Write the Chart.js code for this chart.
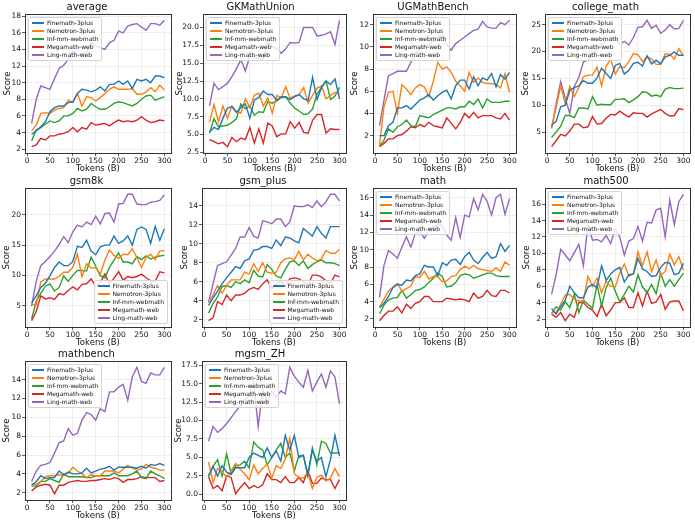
<!DOCTYPE html>
<html>
<head>
<meta charset="utf-8">
<script src="https://cdn.jsdelivr.net/npm/chart.js@4.4.1/dist/chart.umd.min.js"></script>
<style>
    body { margin: 0; width: 695px; height: 520px; background: #fff; position: relative; overflow: hidden; font-family: "DejaVu Sans", sans-serif; }
    canvas { position: absolute; }
    .legend { position: absolute; background: rgba(255, 255, 255, 0.8); border: 1px solid #d4d4d4; border-radius: 2px;
              padding: 1px 3px 1px 3px; font-size: 6px; line-height: 8px; color: #111; white-space: nowrap; }
    .legend .sw { display: inline-block; width: 12px; height: 2px; vertical-align: middle; margin-right: 3px; }
</style>
</head>
<body>
<script>
// x values (training tokens, billions)
const tokens = [10, 20, 30, 40, 50, 60, 70, 80, 90, 100, 110, 120, 130, 140, 150,
                160, 170, 180, 190, 200, 210, 220, 230, 240, 250, 260, 270, 280, 290, 300];

const seriesNames = ['Finemath-3plus', 'Nemotron-3plus', 'Inf-mm-webmath', 'Megamath-web', 'Ling-math-web'];

// average
const avgFine = [3.8, 4.2, 4.7, 5.3, 6.5, 7.0, 7.2, 7.2, 7.6, 7.7, 8.7, 9.2, 9.1, 8.9, 9.1, 9.5, 9.0, 9.8, 9.8, 10.2, 9.8, 10.2, 9.3, 10.4, 10.2, 10.4, 10.0, 10.8, 10.8, 10.6];
const avgNemo = [4.2, 4.9, 6.3, 6.4, 6.3, 6.7, 6.9, 7.0, 7.9, 7.6, 8.7, 7.2, 8.3, 8.2, 7.8, 8.2, 8.7, 9.2, 9.5, 9.2, 9.2, 9.2, 9.3, 8.6, 8.6, 8.9, 9.4, 8.9, 9.7, 9.1];
const avgInf  = [3.0, 4.3, 4.6, 5.0, 5.4, 5.2, 5.4, 6.0, 6.0, 6.3, 6.9, 6.6, 6.8, 7.5, 7.1, 6.8, 6.8, 7.1, 7.5, 7.7, 7.6, 7.4, 7.2, 7.5, 8.0, 8.4, 8.5, 7.9, 8.1, 8.3];
const avgMega = [2.3, 2.5, 3.3, 3.1, 3.6, 3.6, 3.8, 3.9, 4.1, 4.6, 4.1, 4.6, 4.4, 5.2, 4.9, 5.0, 5.1, 4.8, 5.2, 5.5, 5.3, 5.4, 5.3, 5.5, 5.9, 5.5, 5.2, 5.3, 5.5, 5.4];
const avgLing = [5.1, 8.0, 9.6, 9.4, 9.2, 10.5, 11.7, 12.1, 12.8, 13.8, 13.3, 13.5, 13.6, 14.8, 14.4, 14.2, 14.0, 14.8, 15.1, 16.2, 16.0, 16.8, 17.0, 17.1, 16.7, 16.3, 17.1, 17.1, 16.9, 17.5];

// GKMathUnion
const gkFine = [5.3, 6.0, 5.7, 7.3, 8.7, 8.9, 8.1, 8.8, 9.3, 7.3, 9.8, 10.2, 11.1, 10.6, 10.6, 9.8, 10.3, 10.3, 9.9, 10.3, 10.6, 10.0, 9.8, 13.0, 9.9, 11.6, 12.5, 12.0, 12.8, 10.0];
const gkNemo = [6.7, 9.2, 6.8, 9.0, 7.3, 9.0, 8.2, 8.0, 10.0, 8.8, 10.5, 10.8, 9.0, 10.1, 8.0, 10.5, 10.1, 11.7, 10.1, 10.4, 10.6, 11.6, 9.4, 10.5, 11.5, 11.8, 10.0, 10.5, 10.9, 10.8];
const gkInf  = [5.2, 7.2, 6.1, 6.2, 6.3, 6.7, 7.2, 9.3, 8.6, 9.0, 7.7, 8.2, 8.1, 9.6, 9.4, 9.7, 10.2, 10.3, 9.4, 8.7, 8.3, 7.8, 7.9, 8.6, 10.7, 11.6, 12.5, 9.9, 10.4, 11.6];
const gkMega = [4.3, 4.0, 3.7, 3.9, 3.3, 4.6, 4.0, 4.5, 4.3, 6.0, 3.8, 5.8, 3.8, 6.6, 6.2, 4.7, 5.1, 5.1, 6.8, 5.9, 6.7, 5.3, 5.2, 7.0, 7.8, 7.8, 5.2, 5.8, 5.7, 5.7];
const gkLing = [9.0, 12.2, 11.3, 11.7, 12.2, 13.1, 14.2, 15.5, 13.9, 16.0, 15.9, 15.6, 15.6, 18.1, 17.3, 17.0, 16.4, 17.0, 17.9, 17.8, 17.9, 20.0, 20.0, 20.0, 18.8, 18.9, 19.1, 19.4, 17.6, 21.0];

// UGMathBench
const ugFine = [2.0, 2.0, 2.9, 3.2, 4.5, 4.5, 4.7, 4.4, 4.8, 5.2, 5.4, 5.7, 5.2, 5.6, 5.9, 6.1, 5.3, 6.5, 7.0, 7.0, 6.2, 7.3, 6.5, 7.2, 7.0, 7.6, 6.4, 7.5, 7.1, 7.7];
const ugNemo = [1.1, 4.6, 5.9, 6.0, 4.0, 6.6, 6.2, 5.7, 6.3, 6.6, 6.4, 5.5, 6.9, 8.6, 8.0, 8.2, 7.7, 6.9, 6.5, 6.0, 7.7, 6.8, 7.2, 6.8, 6.7, 6.7, 6.6, 6.3, 7.6, 5.9];
const ugInf  = [1.0, 1.6, 2.6, 2.3, 2.8, 3.0, 3.4, 2.9, 2.8, 3.8, 3.7, 3.6, 3.9, 4.1, 4.3, 4.5, 4.5, 4.4, 4.6, 4.6, 5.1, 4.8, 5.3, 4.5, 5.3, 5.0, 5.0, 5.0, 5.1, 5.1];
const ugMega = [1.0, 1.3, 1.7, 1.7, 2.0, 2.1, 2.4, 2.8, 2.7, 3.0, 2.8, 3.2, 2.9, 2.8, 2.7, 3.6, 3.1, 2.6, 3.2, 4.0, 3.6, 4.1, 3.6, 3.8, 3.8, 3.8, 3.6, 3.5, 4.0, 3.4];
const ugLing = [2.9, 5.2, 7.4, 7.6, 7.8, 7.8, 7.8, 8.6, 9.4, 9.8, 10.0, 10.2, 10.5, 10.9, 11.1, 10.2, 9.7, 10.3, 10.6, 10.9, 11.2, 11.5, 11.6, 12.3, 11.8, 11.7, 11.7, 12.2, 12.0, 12.4];

// college_math
const cmFine = [6.3, 7.0, 9.7, 10.0, 12.8, 13.3, 13.6, 14.6, 14.1, 14.1, 15.1, 16.9, 15.9, 15.0, 17.4, 17.8, 15.8, 16.5, 17.8, 18.0, 17.3, 19.2, 17.7, 18.4, 17.7, 19.0, 19.3, 19.9, 19.3, 19.3];
const cmNemo = [5.9, 9.5, 13.6, 10.3, 13.5, 11.6, 13.3, 15.3, 15.6, 15.6, 17.1, 13.6, 17.3, 18.6, 15.8, 17.2, 17.0, 18.1, 19.6, 19.4, 18.1, 19.0, 18.6, 17.6, 17.6, 19.6, 19.5, 18.6, 20.5, 19.2];
const cmInf  = [4.0, 5.0, 6.1, 8.1, 8.1, 7.7, 9.5, 9.5, 9.3, 11.6, 10.0, 10.2, 10.1, 10.1, 11.1, 11.1, 11.2, 10.5, 11.0, 11.6, 12.5, 12.4, 11.7, 11.9, 11.6, 13.0, 13.3, 13.1, 13.1, 13.2];
const cmMega = [2.3, 3.4, 4.6, 4.3, 5.2, 6.5, 6.5, 5.8, 6.0, 7.9, 6.5, 6.6, 7.6, 8.3, 8.2, 8.9, 8.3, 7.8, 8.6, 8.5, 8.5, 7.8, 8.4, 8.8, 9.2, 8.5, 8.0, 8.1, 9.4, 9.2];
const cmLing = [5.7, 10.2, 14.4, 11.3, 8.5, 13.5, 15.2, 18.1, 18.4, 19.6, 20.5, 21.3, 22.0, 22.6, 22.3, 21.4, 21.9, 21.2, 22.6, 24.5, 24.6, 25.8, 24.3, 24.9, 23.4, 24.0, 25.0, 24.2, 24.3, 25.8];

// gsm8k
const g8Fine = [5.5, 6.6, 8.0, 8.7, 9.9, 11.3, 12.2, 11.6, 11.6, 12.3, 14.8, 14.6, 15.8, 14.0, 13.4, 14.7, 15.0, 15.0, 16.5, 15.3, 15.7, 16.5, 15.0, 17.6, 18.0, 17.6, 15.3, 18.1, 15.8, 17.7];
const g8Nemo = [5.2, 5.1, 8.9, 9.4, 9.4, 9.4, 9.8, 10.5, 10.5, 11.3, 13.5, 9.8, 11.9, 11.2, 11.3, 10.2, 12.5, 14.2, 13.3, 12.8, 13.5, 13.4, 14.4, 12.9, 11.3, 12.9, 13.5, 12.6, 14.0, 14.1];
const g8Inf  = [2.8, 5.7, 7.0, 8.2, 8.6, 7.4, 8.0, 9.9, 9.0, 10.0, 10.8, 10.8, 10.7, 13.0, 11.5, 9.9, 9.6, 11.3, 12.5, 13.7, 12.2, 12.2, 11.9, 13.1, 12.6, 13.2, 12.7, 13.0, 13.2, 13.3];
const g8Mega = [2.5, 4.0, 6.6, 6.1, 6.3, 6.0, 7.0, 6.8, 7.5, 8.1, 7.6, 8.5, 8.6, 9.4, 8.2, 8.8, 10.2, 8.6, 9.5, 10.6, 9.2, 9.8, 9.6, 9.8, 10.2, 9.6, 9.1, 9.0, 10.6, 10.4];
const g8Ling = [4.9, 9.0, 11.6, 12.3, 13.1, 14.0, 15.1, 16.4, 15.4, 17.2, 18.3, 18.0, 18.8, 18.4, 19.8, 18.5, 20.2, 20.3, 18.8, 21.8, 21.9, 23.4, 23.4, 21.8, 21.7, 21.7, 22.1, 22.2, 22.4, 23.3];

// gsm_plus
const gpFine = [3.5, 4.3, 5.0, 5.8, 6.4, 7.0, 7.6, 7.4, 8.2, 8.4, 9.3, 9.4, 9.7, 9.7, 9.5, 10.4, 9.8, 10.7, 10.6, 10.3, 10.1, 11.6, 11.2, 10.8, 11.8, 11.1, 10.6, 11.8, 11.8, 11.8];
const gpNemo = [3.9, 4.6, 5.6, 4.8, 5.6, 6.2, 6.2, 6.2, 7.0, 6.8, 7.9, 7.1, 8.0, 7.0, 6.9, 7.0, 8.0, 8.4, 8.5, 8.3, 9.2, 8.3, 8.9, 8.5, 8.2, 8.4, 9.3, 9.0, 9.0, 9.4];
const gpInf  = [2.7, 3.7, 4.4, 5.5, 5.6, 5.4, 6.0, 5.8, 6.2, 5.9, 7.2, 6.6, 6.5, 7.8, 7.3, 6.6, 6.4, 7.3, 8.1, 8.2, 7.7, 8.2, 7.4, 7.8, 8.1, 8.3, 8.0, 8.0, 7.9, 7.7];
const gpMega = [1.9, 2.2, 3.9, 3.6, 4.6, 4.0, 4.6, 4.6, 4.8, 5.2, 5.4, 5.2, 5.8, 6.2, 5.3, 5.7, 6.1, 5.5, 6.3, 6.4, 6.3, 6.0, 5.6, 6.7, 6.7, 6.5, 6.1, 5.8, 6.7, 6.5];
const gpLing = [3.8, 5.8, 7.7, 7.9, 8.1, 8.8, 9.5, 10.7, 10.7, 11.7, 10.8, 10.6, 12.4, 12.3, 12.1, 12.6, 12.6, 11.8, 12.3, 14.0, 13.9, 13.9, 14.1, 13.8, 14.5, 13.9, 14.4, 15.2, 15.2, 14.5];

// math
const mFine = [3.3, 3.8, 4.6, 5.6, 6.0, 5.9, 6.5, 6.4, 7.0, 7.2, 8.2, 8.0, 8.0, 7.0, 8.5, 8.2, 8.8, 8.9, 8.3, 9.2, 9.7, 8.8, 8.4, 9.1, 9.7, 9.0, 9.2, 10.7, 9.8, 10.5];
const mNemo = [3.4, 4.3, 5.2, 5.7, 6.1, 5.2, 5.5, 5.8, 6.9, 6.8, 7.5, 6.6, 6.9, 6.9, 6.3, 6.4, 6.9, 7.0, 7.7, 8.1, 7.8, 8.2, 7.8, 7.7, 7.6, 7.5, 7.9, 7.5, 8.6, 8.2];
const mInf  = [2.6, 3.6, 4.2, 4.4, 4.5, 5.3, 4.4, 4.8, 5.3, 5.4, 5.7, 6.2, 6.7, 7.3, 6.9, 5.7, 5.8, 6.2, 7.0, 7.2, 7.1, 6.7, 6.9, 7.1, 7.3, 7.3, 7.0, 6.9, 6.9, 6.9];
const mMega = [1.8, 2.4, 2.9, 2.9, 3.4, 2.7, 3.7, 3.2, 3.8, 4.0, 4.6, 4.6, 4.0, 4.0, 4.0, 4.4, 4.3, 4.2, 4.3, 4.2, 4.0, 5.0, 4.4, 4.6, 5.3, 4.7, 4.6, 5.3, 5.3, 5.0];
const mLing = [4.5, 8.2, 9.9, 9.5, 9.0, 10.3, 11.5, 10.3, 11.9, 12.1, 11.3, 12.3, 12.6, 12.9, 12.8, 11.7, 11.1, 13.7, 11.4, 14.0, 13.8, 15.9, 14.6, 16.4, 15.6, 14.0, 16.0, 16.4, 14.1, 15.9];

// math500
const m5Fine = [3.3, 2.6, 3.5, 4.3, 6.0, 5.2, 4.6, 4.6, 5.9, 6.2, 5.8, 8.5, 6.7, 7.5, 8.0, 8.3, 6.5, 7.4, 7.5, 9.4, 8.1, 7.8, 7.2, 7.3, 8.3, 8.9, 8.8, 7.4, 7.6, 8.8];
const m5Nemo = [2.8, 2.8, 3.8, 4.9, 5.0, 4.4, 4.2, 4.2, 7.2, 6.0, 7.0, 5.2, 6.6, 6.0, 5.9, 7.6, 8.7, 7.2, 7.5, 10.2, 8.5, 10.2, 7.8, 9.2, 7.3, 7.8, 9.9, 8.6, 9.6, 8.0];
const m5Inf  = [2.7, 3.5, 3.1, 4.1, 3.4, 5.0, 2.8, 4.3, 3.8, 3.3, 6.2, 3.6, 5.8, 7.0, 5.4, 4.1, 5.0, 6.0, 5.3, 7.4, 5.9, 5.2, 6.2, 5.1, 7.6, 6.0, 6.8, 6.0, 6.8, 7.6];
const m5Mega = [2.6, 2.2, 2.8, 1.8, 2.6, 2.2, 4.0, 4.0, 3.4, 3.1, 2.3, 3.8, 2.4, 3.1, 4.0, 4.0, 4.6, 3.4, 3.4, 5.2, 3.6, 5.4, 3.9, 4.1, 5.0, 3.2, 4.1, 4.2, 4.2, 3.0];
const m5Ling = [5.0, 7.4, 10.5, 9.8, 9.1, 10.1, 11.1, 8.5, 13.5, 11.6, 11.7, 11.4, 12.2, 11.2, 13.0, 12.0, 9.8, 11.5, 11.8, 13.3, 11.5, 13.8, 13.7, 15.3, 15.5, 12.0, 16.5, 13.5, 16.3, 17.2];

// mathbench
const mbFine = [2.8, 3.2, 3.8, 3.5, 3.6, 3.6, 4.3, 3.9, 4.2, 4.0, 4.0, 4.1, 4.6, 4.1, 4.3, 4.5, 4.6, 4.8, 4.4, 4.7, 4.7, 4.7, 4.7, 4.6, 4.8, 4.6, 5.0, 4.9, 5.1, 4.9];
const mbNemo = [2.9, 2.9, 3.2, 3.7, 3.8, 3.8, 3.9, 3.8, 4.1, 4.7, 4.3, 4.0, 3.6, 3.9, 3.8, 3.8, 4.3, 4.3, 4.3, 4.1, 4.5, 4.9, 4.6, 4.4, 4.5, 5.0, 4.7, 4.6, 4.4, 4.4];
const mbInf  = [2.7, 2.7, 3.2, 3.2, 3.5, 3.3, 3.1, 4.0, 3.7, 3.7, 3.7, 3.7, 3.6, 3.6, 3.8, 3.8, 3.8, 3.8, 4.1, 3.8, 3.8, 3.8, 4.0, 4.3, 3.6, 3.5, 4.3, 4.0, 3.8, 3.5];
const mbMega = [2.2, 2.6, 2.8, 2.9, 2.8, 1.9, 2.8, 2.8, 3.1, 3.2, 3.3, 3.2, 3.2, 3.3, 3.3, 3.4, 3.5, 3.4, 3.6, 3.5, 3.1, 3.4, 3.4, 3.5, 3.7, 3.6, 3.6, 3.6, 3.2, 3.3];
const mbLing = [3.2, 4.3, 4.9, 5.0, 5.2, 6.2, 7.3, 7.5, 8.8, 8.1, 8.3, 9.7, 10.5, 10.3, 9.7, 10.9, 10.6, 12.7, 12.7, 13.2, 13.5, 11.8, 14.3, 15.3, 13.8, 13.6, 14.7, 14.5, 14.5, 15.3];

// mgsm_ZH
const mgFine = [2.6, 3.8, 2.5, 3.9, 3.0, 2.7, 3.6, 3.6, 3.6, 5.0, 5.6, 5.3, 5.0, 6.3, 5.0, 5.9, 4.5, 8.0, 6.0, 8.0, 5.0, 5.3, 2.7, 6.0, 4.5, 5.0, 2.4, 4.7, 8.0, 5.2];
const mgNemo = [4.4, 1.6, 3.5, 3.0, 2.4, 3.2, 4.2, 3.4, 2.8, 2.0, 4.0, 2.8, 3.5, 4.1, 2.2, 3.9, 3.5, 4.8, 7.6, 2.8, 2.3, 2.2, 3.0, 0.8, 2.3, 2.6, 1.8, 2.2, 3.5, 2.4];
const mgInf  = [2.4, 3.8, 4.7, 2.5, 5.5, 2.8, 3.9, 4.0, 4.5, 3.6, 7.1, 6.4, 6.0, 4.0, 5.0, 6.0, 6.9, 5.0, 5.6, 3.2, 5.2, 5.3, 2.5, 6.3, 4.0, 7.2, 6.9, 5.6, 5.6, 5.6];
const mgMega = [2.4, 0.8, 1.2, 0.5, 2.5, 2.3, 0.1, 0.9, 1.6, 0.8, 1.2, 0.9, 1.3, 2.8, 2.0, 2.0, 1.6, 2.4, 1.6, 1.6, 2.3, 1.6, 3.2, 1.5, 1.5, 2.2, 2.0, 2.0, 0.8, 2.0];
const mgLing = [7.2, 9.2, 8.4, 8.9, 9.6, 10.4, 11.2, 12.0, 12.8, 13.3, 15.2, 9.2, 14.2, 12.4, 14.0, 13.2, 14.0, 13.6, 17.2, 16.0, 15.2, 14.5, 16.8, 14.0, 15.2, 16.3, 14.5, 16.7, 15.9, 12.3];

const titles = ['average', 'GKMathUnion', 'UGMathBench', 'college_math', 'gsm8k', 'gsm_plus', 'math', 'math500', 'mathbench', 'mgsm_ZH'];
const panelSeries = [
    [avgFine, avgNemo, avgInf, avgMega, avgLing],
    [gkFine, gkNemo, gkInf, gkMega, gkLing],
    [ugFine, ugNemo, ugInf, ugMega, ugLing],
    [cmFine, cmNemo, cmInf, cmMega, cmLing],
    [g8Fine, g8Nemo, g8Inf, g8Mega, g8Ling],
    [gpFine, gpNemo, gpInf, gpMega, gpLing],
    [mFine, mNemo, mInf, mMega, mLing],
    [m5Fine, m5Nemo, m5Inf, m5Mega, m5Ling],
    [mbFine, mbNemo, mbInf, mbMega, mbLing],
    [mgFine, mgNemo, mgInf, mgMega, mgLing]
];
const yStep = [2, 2.5, 2, 5, 5, 2, 2, 2, 2, 2.5];
const yDecimals = [0, 1, 0, 0, 0, 0, 0, 0, 0, 1];

// layout of the grid (page pixels)
const colors = ['#1f77b4', '#ff7f0e', '#2ca02c', '#d62728', '#9467bd'];
const plotLeft = [25, 203, 373, 545, 25, 202, 373, 545, 25, 202];
const plotWidth = [146, 143, 143, 145, 146, 144, 143, 145, 146, 144];
const rowTop = [14, 188, 361];
const plotHeight = 139;
const scoreX = [8, 180, 355, 526, 7, 185, 355, 527, 7, 179];
const legendPos = ['tl', 'tl', 'tl', 'tl', 'br', 'br', 'tl', 'tl', 'tl', 'tl'];

Chart.defaults.font.family = '"DejaVu Sans", sans-serif';
Chart.defaults.color = '#111';

const gridColor = '#e8e8e8';

// matplotlib style box around the plot area
const framePlugin = {
    id: 'frame',
    afterDraw(chart) {
        const { ctx, chartArea: a } = chart;
        ctx.save();
        ctx.strokeStyle = '#333';
        ctx.lineWidth = 1;
        ctx.strokeRect(Math.round(a.left) + 0.5, Math.round(a.top) + 0.5,
            Math.round(a.right - a.left), Math.round(a.bottom - a.top));
        ctx.restore();
    }
};

function drawPanel(i) {
    const row = Math.floor(i / 4);
    const L = plotLeft[i], T = rowTop[row], W = plotWidth[i], H = plotHeight;
    const canvasLeft = scoreX[i] - 5;
    const yw = L - canvasLeft;
    const titleH = 13, xh = 21, rightPad = 4;

    const canvas = document.createElement('canvas');
    canvas.width = yw + W + rightPad;
    canvas.height = titleH + H + xh;
    canvas.style.left = canvasLeft + 'px';
    canvas.style.top = (T - titleH) + 'px';
    document.body.appendChild(canvas);

    const series = panelSeries[i];
    const all = series.flat();
    const lo = Math.min(...all), hi = Math.max(...all);
    const pad = (hi - lo) * 0.05;
    const dec = yDecimals[i];

    new Chart(canvas, {
        type: 'line',
        data: {
            datasets: series.map((vals, k) => ({
                label: seriesNames[k],
                data: tokens.map((t, j) => ({ x: t, y: vals[j] })),
                borderColor: colors[k],
                borderWidth: 1.4,
                pointRadius: 0,
                fill: false,
                tension: 0
            }))
        },
        options: {
            responsive: false,
            animation: false,
            events: [],
            layout: { padding: { left: 0, right: rightPad, top: 0, bottom: 0 } },
            plugins: {
                legend: { display: false },
                tooltip: { enabled: false },
                title: {
                    display: true,
                    text: titles[i],
                    font: { size: 10, weight: 'normal' },
                    padding: { top: 0, bottom: 1 },
                    color: '#111'
                }
            },
            scales: {
                x: {
                    type: 'linear',
                    min: -4.5,
                    max: 314.5,
                    afterFit: (s) => { s.height = xh; },
                    ticks: { stepSize: 50, includeBounds: false, font: { size: 7.5 }, padding: 1, maxRotation: 0, autoSkip: false },
                    grid: { color: gridColor, lineWidth: 0.8, tickLength: 3, tickColor: '#333' },
                    border: { display: false },
                    title: { display: true, text: 'Tokens (B)', font: { size: 8.5 }, padding: 0 }
                },
                y: {
                    min: lo - pad,
                    max: hi + pad,
                    afterFit: (s) => { s.width = yw; },
                    ticks: {
                        stepSize: yStep[i], includeBounds: false, font: { size: 7.5 }, padding: 1,
                        callback: (v) => v.toFixed(dec)
                    },
                    grid: { color: gridColor, lineWidth: 0.8, tickLength: 3, tickColor: '#333' },
                    border: { display: false },
                    title: { display: true, text: 'Score', font: { size: 8.5 }, padding: 0 }
                }
            }
        },
        plugins: [framePlugin]
    });

    // legend drawn inside the plot area, like matplotlib's
    const box = document.createElement('div');
    box.className = 'legend';
    box.innerHTML = seriesNames.map((n, k) =>
        `<div><span class="sw" style="background:${colors[k]}"></span>${n}</div>`).join('');
    if (legendPos[i] === 'tl') {
        box.style.left = (L + 3) + 'px';
        box.style.top = (T + 3) + 'px';
    } else {
        box.style.right = (695 - (L + W) + 3) + 'px';
        box.style.bottom = (520 - (T + H) + 3) + 'px';
    }
    document.body.appendChild(box);
}

for (let i = 0; i < titles.length; i++) {
    drawPanel(i);
}
</script>
</body>
</html>
